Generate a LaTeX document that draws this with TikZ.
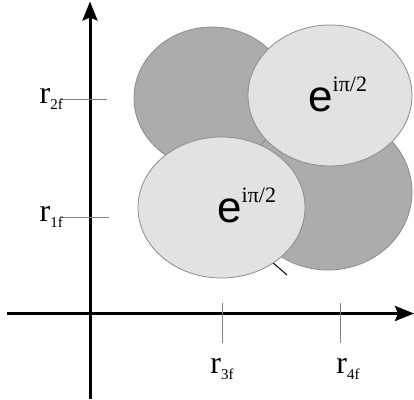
\documentclass[tikz,border=0pt]{standalone}
\usepackage{fontspec}
\setmainfont{Liberation Serif}
\newfontfamily\arialfont{Liberation Sans}
\usepackage{xcolor}
\usepackage{tikz}
\usetikzlibrary{positioning, shapes.geometric, arrows.meta}

\definecolor{darkfill}{RGB}{172,172,172}
\definecolor{lightfill}{RGB}{226,226,226}
\definecolor{rimgray}{RGB}{140,140,140}

\tikzset{
  blob/.style={draw=rimgray, line width=0.8pt, ellipse, inner sep=0pt},
  darkblob/.style={blob, fill=darkfill},
  lightblob/.style={blob, fill=lightfill},
  axisline/.style={line width=3pt, -{Stealth[length=19pt, width=15pt, inset=3pt]}},
  tickline/.style={draw=gray, line width=0.6pt},
  rlabel/.style={inner sep=0pt, font=\fontsize{32}{32}\selectfont},
  phaselabel/.style={inner sep=0pt, font=\arialfont\fontsize{44}{44}\selectfont}
}
\newcommand{\rsub}[1]{r\raisebox{-6pt}{\fontsize{15}{15}\selectfont #1}}
\newcommand{\phasetxt}{e\raisebox{20pt}{\rmfamily\fontsize{22}{22}\selectfont iπ/2}}

\begin{document}
\begin{tikzpicture}[x=1pt, y=1pt]
      \useasboundingbox (-90,-85.5) rectangle (324,313.5);

      % Back ellipses
      \node[darkblob, minimum width=156pt, minimum height=142pt] (ul) at (122,215.5) {};
      \node[darkblob, minimum width=168pt, minimum height=156pt] (lr) at (238,121.5) {};

      % Front ellipses
      \node[lightblob, minimum width=167pt, minimum height=141pt] (ll) at (131.5,106) {};
      \node[lightblob, minimum width=164pt, minimum height=141pt] (ur) at (240,218) {};

      \node[phaselabel, anchor=base west] (pu) at (218,201.5) {\phasetxt};
      \node[phaselabel, anchor=base west] (pl) at (127,91.5) {\phasetxt};

      \coordinate (nick) at (197,38.5);
      \draw[line width=1pt] (ll.-47) -- (nick);

      % Axes
      \coordinate (o) at (0,0);
      \coordinate (xl) at (-83,0);
      \coordinate (xr) at (324,0);
      \coordinate (yb) at (0,-85.5);
      \coordinate (yt) at (0,312);
      \draw[axisline] (xl) -- (xr);
      \draw[axisline] (yb) -- (yt);

      % Ticks
      \coordinate (t1a) at (-30,96.5);
      \coordinate (t1b) at (19,96.5);
      \coordinate (t2a) at (-30,214.5);
      \coordinate (t2b) at (17,214.5);
      \coordinate (t3a) at (132,10.5);
      \coordinate (t3b) at (132,-29.5);
      \coordinate (t4a) at (250,10.5);
      \coordinate (t4b) at (250,-29.5);
      \draw[tickline] (t1a) -- (t1b);
      \draw[tickline] (t2a) -- (t2b);
      \draw[tickline] (t3a) -- (t3b);
      \draw[tickline] (t4a) -- (t4b);

      \node[rlabel, left=-3pt of t1a] (r1) {\rsub{1f}};
      \node[rlabel, left=-3pt of t2a] (r2) {\rsub{2f}};
      \node[rlabel, below=15pt of t3b] (r3) {\rsub{3f}};
      \node[rlabel, below=15pt of t4b, xshift=8pt] (r4) {\rsub{4f}};
    \end{tikzpicture}
\end{document}
